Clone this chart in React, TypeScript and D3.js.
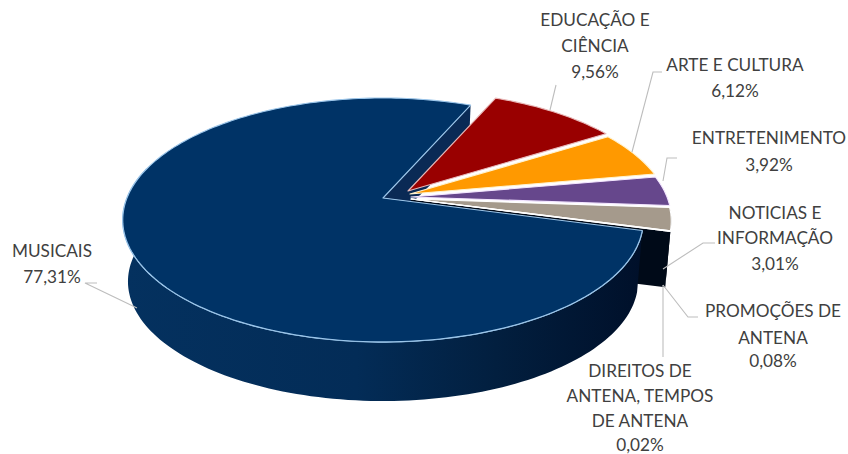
import React from "react";
import * as d3 from "d3";

const categories = ["EDUCAÇÃO E CIÊNCIA","ARTE E CULTURA","ENTRETENIMENTO","NOTICIAS E INFORMAÇÃO","PROMOÇÕES DE ANTENA","DIREITOS DE ANTENA, TEMPOS DE ANTENA","MUSICAIS"];
const values = [9.56,6.12,3.92,3.01,0.08,0.02,77.31];
const colors = ["#990000","#ff9900","#66478c","#a59a8c","#e8e2d8","#f0ead8","#003366"];
const strokes = ["#e8b8b8","#fff3d0","#f3e6ff","#ffffff","#ffffff","#ffffff","#9cc6ea"];
const apexes: [number,number][] = [[408,191],[410,194],[411,197],[411,199],[411,199],[411,199],[383,198]];
const labelLines = [
  {x:595,ys:[20,46,72],t:["EDUCAÇÃO E","CIÊNCIA","9,56%"]},
  {x:735,ys:[65,91],t:["ARTE E CULTURA","6,12%"]},
  {x:769,ys:[138,165],t:["ENTRETENIMENTO","3,92%"]},
  {x:775,ys:[213,238,264],t:["NOTICIAS E","INFORMAÇÃO","3,01%"]},
  {x:773,ys:[311,338,361],t:["PROMOÇÕES DE","ANTENA","0,08%"]},
  {x:640,ys:[371,396,421,445],t:["DIREITOS DE","ANTENA, TEMPOS","DE ANTENA","0,02%"]},
  {x:52,ys:[251,277],t:["MUSICAIS","77,31%"]},
];
const leaders: [number,number][][] = [
  [[556,85],[550,110]],
  [[662,72],[653,72],[632,152]],
  [[677,158],[667,158],[663,181]],
  [[715,243],[703,243],[663,269]],
  [[698,317],[688,317],[663,285]],
  [[663,285],[663,357]],
  [[97,283],[85,283],[137,308]],
];

const RX = 256, RY = 118, P = 0.18, DEPTH = 62, BLACK_DEPTH = 57, SHRINK = 0.98, SCALE = 1.0;
const START = 23.5 * Math.PI / 180;
const pie = d3.pie<number>().sort(null).startAngle(START).endAngle(START + 2 * Math.PI);
const arcs = pie(values);

function proj(apex:[number,number], a:number, r=1, bottom=false, depth=DEPTH): [number,number]{
  const u = Math.sin(a)*r*SCALE, v = -Math.cos(a)*r*SCALE, d = 1 - P*v;
  const s = bottom ? SHRINK : 1;
  return [apex[0] + s*RX*u/d, apex[1] + (bottom?depth:0) + s*RY*v/d];
}
const line = d3.line();
function sweep(apex:[number,number],a0:number,a1:number,bottom=false,depth=DEPTH){
  const n = Math.max(2,Math.ceil(Math.abs(a1-a0)*40));
  return d3.range(n+1).map(i=>proj(apex,a0+(a1-a0)*i/n,1,bottom,depth));
}
const closed = (pts:[number,number][]) => line(pts)+"Z";

export default function App(){
  const m = arcs[6], mA = apexes[6];
  const t = arcs[3], tA = apexes[3];
  const wallEnd = 285*Math.PI/180;
  const wall = [...sweep(mA,m.startAngle,wallEnd),...sweep(mA,wallEnd,m.startAngle,true)];
  const blackA = t.endAngle, black0 = t.startAngle+0.02;
  const blackWall = [...sweep(tA,black0,blackA),...sweep(tA,blackA,black0,true,BLACK_DEPTH)];
  const blackFace: [number,number][] = [tA,proj(tA,blackA),proj(tA,blackA,1,true,BLACK_DEPTH),[tA[0],tA[1]+BLACK_DEPTH]];
  const inner: [number,number][] = [mA,proj(mA,m.endAngle),proj(mA,m.endAngle,1,true,40),[tA[0]+2,tA[1]+3]];
  return (
    <svg width={848} height={454} style={{position:"absolute",left:0,top:0,background:"#fff"}}>
      <defs>
        <linearGradient id="wallG" gradientUnits="userSpaceOnUse" x1={125} x2={640} y1={0} y2={0}>
          <stop offset="0" stopColor="#04315f"/>
          <stop offset="0.45" stopColor="#032c57"/>
          <stop offset="0.72" stopColor="#021f3f"/>
          <stop offset="1" stopColor="#00102a"/>
        </linearGradient>
      </defs>
      <path d={closed(inner)} fill="#0a2a55"/>
      <path d={closed(blackFace)} fill="#000a18"/>
      <path d={closed(blackWall)} fill="#000a18"/>
      <path d={closed(wall)} fill="url(#wallG)"/>
      <path d={line(sweep(mA,m.startAngle,wallEnd))!} fill="none" stroke="#9cc6ea" strokeWidth={1.5}/>
      {arcs.map((a,i)=>(
        <path key={categories[i]} d={closed([apexes[i],...sweep(apexes[i],a.startAngle,a.endAngle)])}
          fill={colors[i]} stroke={strokes[i]} strokeWidth={1.1} strokeLinejoin="round"/>
      ))}
      {leaders.map((l,i)=><path key={i} d={line(l)!} fill="none" stroke="#bdbdbd" strokeWidth={1.1}/>)}
      {labelLines.flatMap(b=>b.t.map((s,j)=>(
        <text key={s+b.x} x={b.x} y={b.ys[j]} dy="0.35em" textAnchor="middle"
          fontFamily="Lato, sans-serif" fontSize={17.2} fill="#404040">{s}</text>
      )))}
    </svg>
  );
}
